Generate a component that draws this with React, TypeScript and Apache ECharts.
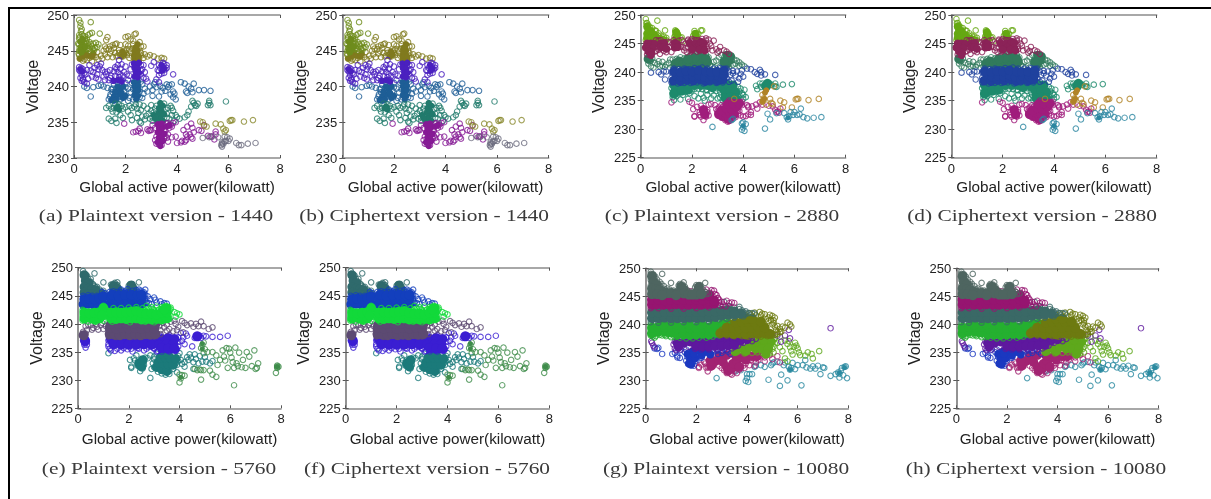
import React, { useEffect, useRef } from "react";
import * as echarts from "echarts";

// ---- tick values and texts
const xTicks = [0, 8, 2];
const xLabel = "Global active power(kilowatt)";
const yLabel = "Voltage";
const captions = [
  "(a) Plaintext version - 1440", "(b) Ciphertext version - 1440",
  "(c) Plaintext version - 2880", "(d) Ciphertext version - 2880",
  "(e) Plaintext version - 5760", "(f) Ciphertext version - 5760",
  "(g) Plaintext version - 10080", "(h) Ciphertext version - 10080",
];

// ---- window 1440: flat x,y lists
const a1Open = [.2,249.3,.25,248.9,.65,249,.25,248.4,.3,248,.27,247.7,.2,247.2,.3,247.3,.42,247,.55,247.2,.62,247.4,.7,247.5,1,247.4,.2,246.7,.35,246.6,.5,246.6,.6,246.2,.75,246,.85,246.1,.95,245.9,.2,245.9,.4,246.1,.55,245.7,.7,245.6,.82,245.4,.3,245.4,.48,245.2,.62,245,.78,245.1,.2,245,.9,245.5,.22,246.9,.28,246.2,.36,247.1,.42,246.7,.46,246.3,.52,246,.58,245.3,.66,245.9,.72,245.3,.28,244.9,.36,245.6,.22,245.4,.16,246,.18,244.6];
const a1Solid = [.25,246.3,.33,245.9,.27,245.5,.38,245.2,.25,245,.45,245.6,.33,246.6,.3,244.8];
const a2Open = [.6,244,.75,244.3,.9,244.8,1.05,244.3,1.15,245,1.2,245.6,1.25,246.5,1.3,246.9,1.35,245.2,1.4,244.6,1.5,244.1,1.55,245.4,1.6,245.9,1.7,244.3,1.8,245.8,1.85,244.6,1.95,245,2,245.9,2.05,244.4,2.1,245.7,2.15,244,2,246.9,2.1,247,2.2,246.6,2.3,245.9,2.35,247.3,2.4,247.4,2.2,244.9,2.6,245.6,2.7,245.6,2.75,244.5,2.6,244.3,2.85,244.2,2.95,244.4,3.1,244.2,3.25,243.9,3.4,244,3.5,243.9,1.1,243.9,1.3,244.1,.95,243.8,.35,243.6,.5,243.7,.7,243.5,1.65,246,1.45,245,1.75,245.1,2.55,246.2,.2,244.4,.3,244,.4,243.8,.55,244.6,.65,244.8,.85,244.1,1.2,244.5,1.25,245.3,1.4,245.6,1.5,245.8,1.6,244.7,1.65,244.2,1.75,244.7,1.8,244.3,1.9,244.2,2,244.7,2.05,245.2,2.15,245.2,2.25,244.3,2.28,245.3,2.3,246.4,2.55,245,2.6,244.7,2.7,244];
const a2Solid = [2.35,243.7,2.45,243.8,2.52,243.6,2.33,244.3,2.43,244.4,2.52,244.2,2.36,244.9,2.47,245,2.42,245.5,2.47,245.9,2.38,245.4,1.85,244.2,1.95,244.5,1.88,244.9,.35,244.2,.45,244.5,.22,243.9,.57,244.3,.7,244.2,.75,244.6,.3,244.7];
const a3Open = [.2,242.7,.25,242.1,.3,241.6,.35,241.1,.4,240.6,.3,240.8,.5,240.4,.45,241.7,.5,242.3,.6,243,.65,242.2,.7,241.4,.85,241.2,.9,241.7,.95,242.4,1,242.8,1.05,243.2,.95,241,1.1,242.3,1.15,241.4,1.2,240.9,1.3,242.1,1.4,242.3,1.45,241.5,1.5,240.8,1.6,241.5,1.65,242.5,1.7,243,1.8,242.5,1.75,241.3,1.95,242,1.85,240.9,2,242.8,2.05,241.7,2.1,240.9,2.2,242.4,2.6,243,2.65,242.4,2.6,241.7,2.7,241.2,2.75,242,2.8,241.1,2.85,240.7,3,242.9,3.1,243.4,3.25,242.3,3.2,241,3.3,240.6,3.85,241.7,3.3,243,3.5,243.2,3.6,243,3.55,242.4,1.75,243.7,.2,242.3,.28,242.6,.35,242.4,.4,241.9,.25,241.2,.36,240.9,.55,241.1,.75,242,.8,242.6,.9,243,1.2,242,1.25,241.7,1.35,240.9,1.4,241.2,1.55,242.1,1.6,242.7,1.7,242,1.8,241.7,1.85,243.1,1.9,241.5,2.15,241.5,2.25,243.1,2.6,242.2,2.7,243,3.3,242.2,3.35,242.6,3.4,241.8,3.45,243.3,3.5,241.9,3.6,242.6,3.3,241.6];
const a3Solid = [2.33,243.2,2.45,243.1,2.52,243.3,2.35,242.6,2.48,242.5,2.4,242,2.52,241.9,2.35,241.4,2.47,241.3,.25,242.4,.32,242.1,1.72,240.9,1.85,240.7,1.55,240.8,3.4,243,3.5,242.5,3.42,242.2];
const a4Open = [.4,240,.5,239.8,.75,239.9,.95,240.1,.65,238.6,1.05,240.2,1.15,240,1.3,239.8,1.45,239.6,1.35,238.2,1.4,238.6,1.5,239.2,2,240.5,2.1,239.7,2.2,239.2,2.15,238.4,2.1,238,2.65,240.3,2.75,239.7,2.7,239,2.65,238.4,2.85,239.3,2.95,240,3.05,239.5,3.15,240.6,3.2,239.9,3.35,240.1,3.45,239.8,3.55,239.4,3.65,239.9,3.7,240.2,3.8,240.3,3.85,239.3,3.75,238.9,3.85,238.5,3.9,239,3.05,238.7,3.3,238.6,4.15,240.6,4.3,240.4,4.45,240,4.65,240.4,4.55,239.7,4.35,239.3,4.4,239.1,4.6,239.2,4.85,239.5,5.05,239.5,5.3,239.4,1.42,238.9,1.5,239.7,1.6,238.9,1.65,239.8,1.7,238.6,1.8,238.2,1.85,240.3,1.95,239.4,2,239.9,1.55,240.2,1.7,240.5,2.25,240.5,2.3,239.6,2.55,239.3,2.55,238.5,2.3,238.2,2.6,240.7,3.1,240.3,3.4,239.3,3.6,240.3,3.95,238.2];
const a4Solid = [1.45,238.1,1.55,238.6,1.65,238.2,1.75,238.9,1.6,239.3,1.8,239.6,1.9,238.4,1.7,240,1.9,240,1.55,238,1.85,239.1,2,238.7,2.33,240.6,2.48,240.7,2.35,240,2.5,240.1,2.38,239.4,2.5,239.5,2.35,238.8,2.48,238.7,2.42,238.2];
const a5Open = [1.25,237,1.35,237.3,1.45,236.9,1.5,236.5,1.35,235.5,1.45,235.2,1.6,235.5,1.65,234.9,1.8,236,1.9,235.6,2,237.1,2.1,236.5,2.2,236,2.25,235.3,2.35,237.2,2.45,236.9,2.55,237.5,2.6,236.7,2.45,235.6,2.55,235.1,2.6,234.9,2.75,235.4,2.7,237.3,2.85,236.9,2.9,236.2,2.95,235.5,3.05,235.2,3.1,236.4,3,237.4,3.75,237.3,3.85,236.6,3.8,236,3.7,235.5,3.9,235.2,3.8,237,3.95,236,4,235.7,4.1,235.5,4.3,235.7,4.4,236,4.45,236.5,4.55,237.2,4.65,237.7,4.6,238,4.7,237.4,4.75,237.3,4.8,237.6,5.25,238,5.25,237.7,5.2,237.4,5.3,237.4,5.9,237.9,1.55,237,1.6,237.6,1.75,237.5,1.85,237.3,1.9,236.9,1.65,236.4,2.15,237.3,2.25,237,2.4,237.5,2.5,236.3,2.65,235.8,2.8,235.9,3,236.6,3.05,235.7,3.15,236.9,3.2,237.3,3.55,236.8,3.6,236.2,3.6,235.6,3.65,237,3.5,237.6,3.2,235.3];
const a5Solid = [3.25,235.3,3.35,235.8,3.45,235.2,3.28,236.3,3.4,236.6,3.5,236.1,3.3,237,3.45,237.3,3.35,237.7,1.7,237.2,1.75,236.8,1.65,237,3.1,236,3.15,235.6];
const a6Open = [1.95,234.8,2.3,233.6,2.4,233.7,2.5,233.8,2.55,234.1,2.85,234,2.95,233.9,3,233.9,3.05,234.6,3.15,234.2,3.55,233.8,3.65,233.3,3.7,234.2,3.75,234.6,3.85,234.9,3.95,235,3.95,233,3.65,232.3,4,232.1,4.15,232.2,4.2,232.4,4.3,232.3,4.35,232.5,4.4,233,4.35,233.3,4.25,233.9,4.4,234.4,4.55,234.8,4.6,234.2,4.65,233.6,4.5,233.3,4.55,232.9,4.6,232.7,4.95,233.8,4.85,233.9,5.05,234.6,5.2,233.1,5.3,233,5.35,233,5.5,233.3,5.5,233.7,5.45,232.6,3.2,232,3.3,231.9,3.4,231.8,3.5,232.7,3.55,233.1,3.6,234.8,3.2,233,3.15,232.5,3.5,233.9,3.8,234.4,3.65,234.9,2.6,233.5,2.9,233.8,3.6,232.8,3.8,232.9];
const a6Solid = [3.25,232.2,3.35,232.1,3.45,232.4,3.3,232.9,3.42,233.1,3.25,233.6,3.38,233.7,3.5,233.4,3.3,234.2,3.45,234.3,3.6,234.4,3.25,234.7,3.4,234.8,3.35,231.7,3.7,234.6];
const a7Open = [4.9,235.1,5,235,5.05,234.5,5.15,234.4,5.5,234.8,5.7,234.7,5.8,234.1,5.9,233.9,6.05,235.2,6.1,235.3,6.15,235.3,6.6,235.1,6.95,235.3,5.85,233.7];
const a8Open = [5,232.8,5.25,232.9,5.35,233,5.6,232.9,5.75,232.2,5.75,232,5.72,231.8,5.75,231.6,5.8,232,5.85,232.3,5.9,232.4,5.95,232.9,5.85,233,6.05,232.7,6,232.4,6.3,232.1,6.4,231.8,6.5,231.8,6.75,232,7.05,232.1];

// ---- window 2880
const c1Open = [.2,249.3,.65,249,.25,248.6,.3,248.2,.45,247.7,.55,247.3,.6,247.2,.7,246.8,.95,247.3,.8,246.4,.9,246.2,1,246,1.35,247.3,1.4,247.1,1.35,246.5,1.45,245.8,1.55,246,1.6,246.1,1.65,245.4,2.1,247.2,2.15,246.8,2.25,246.7,2.35,247.3,2.4,247.3,2.15,246,.22,248.6,.28,247.6,.35,247.9,.45,246.9,.58,246.5,.68,246.4,.85,245.7,.95,245.4,1,245.6,.2,245.6,1.32,246.2,1.3,245.4,1.45,246.7,2.05,246.4,2.2,246.4];
const c1Solid = [.25,248,.3,247.4,.4,247.2,.25,246.7,.38,246.5,.5,246.6,.25,246,.38,245.9,.5,245.9,.62,246,.78,245.8,.9,245.6,.3,245.3,.5,245.3,.7,245.4,1.38,247,1.42,246.5,1.4,245.9,2.13,246.7,2.15,246.1];
const c2Open = [.6,243.7,.75,243.2,1,243.5,1.2,243.5,1.15,245.2,1.25,244.9,1.6,245.6,1.65,244.4,1.7,243.8,1.75,245,1.8,243.5,1.85,245.7,1.95,243.6,2,245.8,2.15,245.6,2.65,245.7,2.7,245,2.75,244.6,2.85,245.5,2.8,243.8,2.95,244,3,243.4,3.05,243.7,3.1,244.4,3.25,243.8,3.35,243.6,3.45,243.2,2.55,245.9,.6,245.6,.7,245.5,.78,245.6,.62,244.5,.7,243.9,1.05,245.3,1.1,244.4,1.28,245.6,1.5,245.5,1.55,244.4,1.85,245.5,1.95,245.5,2.1,245.6,2.25,245.6,2.4,245.8,2.55,245.5,2.6,244.5,2.6,244,1.75,244.2,2.2,243.6,.25,243.1,.55,243.6,.9,243.7];
const c2Solid = [.25,245,.4,245,.55,244.9,.2,244.3,.33,244.3,.47,244.2,.3,243.6,.42,243.4,.8,245,.92,245.1,.78,244.3,.9,244.4,1,244.1,1.33,245.1,1.42,244.9,1.33,244.3,1.45,244.4,1.9,245.1,2,244.6,2.15,245,2.2,244.3,2.3,244.8,2.35,245.3,2.45,245.1,2.45,244.3,2.3,243.9,2,243.9,2.5,243.8,.4,243];
const c3Open = [.4,242,.3,241.5,.4,241,.5,240.8,.55,241.6,.7,241.9,.85,241.8,1,241.3,1.15,242.2,.95,240.9,.75,241,1.25,241,2.85,241.8,2.8,241,2.9,240.8,2.95,242,3.05,242.6,3.15,243,3.2,241.3,3.1,241,3.65,242.2,3.7,241.5,3.75,242,3.85,241.7,3.95,241.3,3.85,241.1,4.05,241,1.25,242.2,1.3,241,1.4,242.3,1.55,242.6,1.7,242.4,1.9,242.8,2,243,2.15,243.1,2.25,243.2,2.4,243.1,2.55,243,2.65,242.6,2.7,241.3,3.3,243.1,3.35,242.4,3.55,242,3.6,241.3,3.25,241,3.45,241,.35,241.9,.45,242.4,.65,241.4,.85,241.1,1.1,241.6];
const c3Solid = [.3,242.3,1.35,241.5,1.5,241.9,1.65,241.3,1.8,241.9,1.95,241.3,2.1,241.8,2.2,241.2,2.35,241.8,2.5,241.3,2.6,241.8,2.3,242.6,2.45,242.5,2.1,242.5,1.85,242.3,2.55,242.3,3.35,241.4,3.45,242.1,3.5,242.7,3.38,242.9,3.25,241.8];
const c4Open = [.4,239.9,.7,240,.9,240.1,.8,239.6,1,240.1,.95,238.7,3.95,240.3,3.6,240.2,3.9,239.7,4,239.2,3.85,238.9,3.7,239.4,3.55,238.5,3.35,239,3.45,240.1,3.8,238.3,4.15,240.6,4.3,240.5,4.45,240,4.65,240.4,4.55,239.7,4.7,240,4.85,239.6,4.7,239.4,5.25,239.5,1.2,238.2,1.2,239,1.2,240,1.3,240.6,1.5,240.5,1.7,240.6,1.9,240.5,2.1,240.7,2.4,240.8,2.6,240.6,2.85,240.6,3.1,240.7,3.35,240.6,1.45,238,1.7,238.1,1.95,238.1,2.2,238.2,2.45,238,2.7,238.2,2.95,238.1,3.2,238.2,3.45,238.3,3.5,239.5,3.6,239.8,3.75,240.1];
const c4Solid = [1.28,238.5,1.4,239.3,1.3,240.1,1.55,238.4,1.6,239.1,1.55,240,1.8,238.6,1.85,239.3,1.78,240.2,2.05,238.5,2.05,239.2,2.02,240.1,2.3,238.7,2.28,239.4,2.27,240.3,2.52,238.4,2.5,239.1,2.55,240.1,2.72,238.6,2.78,239.3,2.75,240,3,238.5,3.05,239.2,2.98,240.1,3.2,238.7,3.25,239.5,3.25,240.3];
const c5Open = [1.25,235.6,1.3,235.1,1.4,235.8,1.55,235.2,1.65,236,1.85,235.3,1.9,236.3,2,236.8,2.1,235.8,2.25,235.4,2.35,236.2,2.45,235.5,2.5,235,2.55,236.9,2.6,236,2.75,235.4,2.85,235.9,2.95,236.7,3,235.4,3.9,237.1,3.95,236.3,4,236,4.1,235.6,3.85,235.2,4,235.3,4.5,237.6,4.55,237,4.65,238,4.7,237.4,4.75,238,4.8,237.6,5,237.9,5.1,237.8,5.25,238,5.25,237.5,5.3,237.4,5.55,237.8,5.9,237.9,1.2,237.2,1.25,236.4,1.4,236.2,1.5,236.5,1.65,237,1.75,236.5,1.95,237,2.1,237,2.25,237.1,2.4,237,2.6,236.8,2.75,236.6,2.95,237.2,3.1,236.5,3.15,236,3.1,235.5,3.2,235,3.4,235,3.6,235,3.8,235.2,3.85,236,3.85,236.6,3.8,237.4,4.05,236.9];
const c5Solid = [1.3,237.7,1.35,236.8,1.3,236.2,1.55,237.5,1.6,236.7,1.8,237.6,1.85,236.9,2.1,237.7,2.35,237.7,2.6,237.7,2.8,237.3,3,237.7,3.2,237.2,3.4,237.8,3.6,237.7,3.3,236.4,3.5,236.6,3.7,236.5,3.3,235.5,3.5,235.6,3.7,235.5,4.9,237.5,4.95,238];
const c6Open = [1.2,234.7,1.9,234.8,2,234.6,2.05,233.5,2.1,232.3,2.1,232.2,2.2,233.9,2.3,233,2.35,234.1,2.35,232.2,2.45,231.6,2.5,232.9,2.6,233.4,2.65,232.4,2.65,234.3,2.75,234.4,2.9,234.2,2.95,233.5,3,232.8,3.85,233.2,3.9,232.4,4,232.2,4.1,232.3,4.2,232.6,4.3,232.5,4.3,233,4.35,234,4.15,234.2,4.2,233.8,4.5,234.3,4.55,233.6,4.65,234.7,4.75,234.3,5,234.1,5.15,234,5.25,233.4,5.35,233.1,5.45,233.6,5.4,232.9,5.3,233,4.2,234,2.3,232.5,2.4,233.3,2.55,232.2,2.6,233,3,233.1,3.05,233.8,3.15,232,3.2,233.9,3.3,231.6,3.4,231.3,3.55,231.9,3.7,232.1,3.8,232.7,3.8,233.4,3.95,234.2,3.95,234.8,3.45,235,3.3,234.3,3.15,234.2];
const c6Solid = [3.05,232.6,3.2,232.3,3.35,232,3.45,231.7,3.3,232.9,3.5,232.7,3.65,232.6,3.15,233.3,3.35,233.7,3.55,233.5,3.75,233.9,3.4,234.4,3.6,234.5,3.85,234.5,2.5,232.6,2.45,233.4];
const c7Open = [4.75,234.8,4.8,235.4,4.75,236,4.9,234.3,5.05,235.3,5.1,234.6,5.15,234.4,5.2,237.5,5.45,235,5.6,234.7,5.55,233.8,5.9,233.8,6.05,235.2,6.1,235.3,6.15,235.3,6.55,235.1,6.95,235.3,3.65,235.3];
const c7Solid = [4.85,236.4,4.9,236.8,4.82,235.3,4.75,234.9];
const c8Open = [2.8,230.4,3.55,231.6,3.6,231.8,3.95,231,4,230.3,4.05,229.7,3.95,229.9,4.1,230.9,4,231.2,4.85,230.1,4.95,232.7,5.05,231.7,5.3,232.8,5.6,232.8,5.7,232.1,5.75,231.7,5.8,232.3,5.85,233,5.95,232.5,6,233,6.1,232.5,6.2,232.6,6.25,233.6,6.35,232.1,6.5,231.9,6.75,232,7.05,232.1];
const c8Solid = [5.75,232,4,230.6];

// ---- window 5760
const e1Open = [.2,249.4,.65,249,.3,248.4,.5,248,.6,247,.7,246.5,.95,245.5,1,247.4,1.35,245.2,1.55,247.4,1.45,247.3,1.7,245.5,2.05,247,2.2,246.6,2.1,245.6,2.25,245.5,2.4,247.4,.9,245.8,.2,248.9,.35,248.6,.4,248,.5,247.5,.58,247.1,.65,246.7,.75,246.6,.85,246.1,1,245.9,1.05,245.4,1.3,247,1.35,246.4,1.5,247,1.55,246.9,1.6,246.2,1.7,245.9,2,246.8,2.05,246.4,2.25,246.2,2,246.1,1.35,245.8];
const e1Solid = [.25,248.7,.3,247.7,.42,247.3,.25,246.6,.4,246.3,.55,246.2,.7,246,.25,245.6,.4,245.3,.55,245.3,.75,245.2,.9,245.3,1.4,246.8,1.55,246.3,1.45,245.7,1.6,245.5,2.1,246.9,2.15,246.2,2.1,245.6];
const e2Open = [1.65,245.7,1.7,246.1,1.85,245.8,1.95,246.2,2.05,245.3,2.3,246,2.4,246.1,2.5,245.9,2.55,245.3,2.6,245.6,2.65,245.2,2.65,246.1,2.7,243.8,2.8,243.7,2.85,244.4,2.9,243.5,3,244.7,3.05,244.3,3.1,243.8,3.3,243.5,3.4,243.7,3.5,243.6,3.25,244,1.15,244.9,1.05,243.5,1.1,244.1,.2,245,.2,243,1.05,244.4,1.05,245.5,.95,245.7,1.25,245.7,1.4,245.8,1.55,245.7,1.75,245.7,1.95,245.7,2.15,245.9,2.4,245.7,2.6,244.8,2.65,244.5,2.65,243.7,2.75,244.9,1.2,244.9,1.2,243.6,.55,245,.75,245,.4,245.1];
const e2Solid = [.22,243.5,.4,243.6,.6,243.5,.8,243.4,1,243.5,.25,244.4,.45,244.5,.65,244.4,.85,244.6,1,244.9,1.3,243.5,1.5,243.6,1.7,243.5,1.9,243.6,2.1,243.5,2.3,243.6,2.5,243.5,1.3,244.5,1.5,244.6,1.7,244.5,1.9,244.6,2.1,244.6,2.3,244.6,2.5,244.5,1.35,245.2,1.6,245,1.85,245.2,2.1,245.2,2.35,245.1,2.5,245.2];
const e3Open = [2.7,243.2,2.8,242.7,2.9,243,3,242.5,3.1,243.1,3.15,242.4,3,241.8,3.65,242.9,3.8,242.1,3.9,241.9,4,241.7,3.85,241.3,1,243.2,1.1,242.5,1.05,241.3,.18,241.5,.18,242.5,.18,240.6,.4,240.4,.7,240.4,1,240.6,1.05,242,1.22,241.3,1.22,242.3,1.4,242.8,1.7,242.8,2,242.9,2.3,243,2.55,242.8,2.7,242.6,2.95,242.7,3.2,242.6,3.6,241.7,3.65,242.6,3.6,240.9,3.3,243,3.45,243.2,2.05,240.3,1.35,240.4,2.65,240.4,3,240.3];
const e3Solid = [.25,241,.45,241.1,.65,240.8,.85,241,.25,242,.45,241.9,.65,242,.85,242.1,1,242.8,.95,241.5,1.3,241,1.5,240.9,1.7,241,1.9,240.9,2.1,241,2.3,241,2.5,240.8,2.7,240.9,2.9,240.8,3.1,240.9,3.3,240.8,3.5,241,1.3,242,1.5,242.1,1.7,242,1.9,242.1,2.1,242.2,2.3,242.3,2.5,242,2.7,241.8,2.9,241.9,3.1,241.7,3.3,242,3.5,242.1,3.5,242.8,3.4,242.6];
const e4Open = [.3,239.6,.5,239.8,.6,239.3,.75,239.5,.9,239.8,1,239.1,1.1,239.6,.2,238,.3,238.3,.25,237.7,3.2,240.4,3.35,240.2,3.5,239.9,3.65,240.4,3.8,240.6,3.85,240,3.95,239.5,4.1,240.5,4.2,240.2,4.3,239.8,4.45,240.1,4.55,239.5,4.65,240,4.75,239.6,4.85,240.4,4.95,239.6,5.15,239.1,5.3,239.4,3.5,238.8,3.75,238.7,3.9,238.9,4.15,238.5,.4,239.9,.7,240,.95,240.2,.2,238.6,.35,238.9,.55,239,.8,239,1.2,237.8,1.2,238.8,1.2,239.7,1.35,240.4,1.7,240.3,2.05,240.4,2.4,240.4,2.7,240.3,3,240.3,3.2,239.6,3.25,238.9,3.25,238.2,3.4,239.4,3.6,239.1,1.5,237.7,2,237.8,2.5,237.7,3,237.8];
const e4Solid = [1.25,238.2,1.45,238.1,1.65,238,1.85,238.2,2.05,238,2.25,238.1,2.45,238,2.65,238.2,2.85,238.1,3.05,238.2,1.25,239.3,1.5,239.2,1.75,239.3,2,239.2,2.25,239.3,2.5,239.2,2.75,239.4,3,239.2,1.3,240,1.6,240,1.9,240.1,2.2,240.1,2.5,240,2.8,240,3.05,240,.22,238];
const e5Open = [.25,236.6,.3,235.8,.35,236.3,1.2,236.4,1.25,235.6,1.45,235.2,1.7,235.3,1.95,235.5,2.15,235.1,2.35,235.7,2.6,235.3,2.8,235.9,3,235.6,3.1,235.1,4.05,238.4,4.1,237,4.2,236.4,4.25,238.3,4.5,236,4.6,237.5,4.7,237.9,4.8,237.9,4.85,237.5,4.95,237.9,5.05,237.8,5.3,237.7,5.6,237.7,5.9,237.9,3.9,235.5,.25,236.3,.2,237.1,.3,237.4,.35,236.8,1.2,237.1,1.2,236,1.3,235.3,1.55,235.6,1.8,235.7,2.1,235.6,2.4,235.6,2.7,235.6,3,235.7,3.15,235.2,3.3,235.1,3.6,235.1,3.85,235.2,3.95,236,3.95,236.8,3.95,237.6,3.6,238,3.25,237.9,4.15,237.6,4.3,237.9,4.65,237.6];
const e5Solid = [1.3,237.3,1.55,237.2,1.8,237.3,2.05,237.1,2.3,237.3,2.55,237.2,2.8,237.2,3.05,237.1,3.3,237.3,3.55,237.5,3.8,237.3,1.4,236.4,1.7,236.3,2,236.3,2.3,236.3,2.6,236.4,2.9,236.3,3.2,236.3,3.5,236.4,3.75,236.4,3.3,235.7,3.55,235.6,3.8,235.6,.28,237,4.7,237.8];
const e6Open = [1.2,234.8,2.05,233.6,2.1,232.4,2.1,232.2,2.25,233.5,2.35,232.6,2.45,231.6,2.55,232.1,2.6,233.3,2.75,233.9,2.85,234.4,2.3,234.4,2.85,230.4,2.95,233,3,232.3,3.85,233,4,234.8,4.05,233.6,4.1,232.9,4.2,232.4,4.3,234.1,4.45,234,4.55,233.2,4.6,234.6,4.8,234.3,4.9,233.3,5,234.1,5.05,233.3,5.2,233,5.3,233.4,3.9,231.4,4.55,232,3.6,231.1,2.4,232.5,2.45,233.3,2.55,233,2.6,232.7,2.65,234,2.2,233.9,2.9,232,3,233.7,3,234.2,3.15,231.5,3.3,231.2,3.45,231,3.6,231.6,3.75,232,3.9,232.7,3.95,233.4,3.95,234.3,3.75,234.7,3.4,235.1,3.1,234.7,4.2,233.2,4.35,233.6,4.4,234.6,4.65,233.8,4.75,233];
const e6Solid = [3.1,232.3,3.3,231.9,3.5,231.6,3.15,233.1,3.35,233,3.55,232.8,3.75,232.7,3.25,234,3.45,234,3.65,233.9,3.85,233.8,3.35,234.6,3.55,234.6,2.4,233,2.5,232.4,2.55,233.6];
const e7Open = [4,231,4.05,230.3,4,229.6,4.85,230.1,4.2,230.8,4.1,230.9,4.6,232,4.7,231.8,4.8,231.9,4.85,231.8,4.95,231.8,5.2,231.7,5.3,231,5.45,230.6,5.5,232.7,5.6,233.6,5.7,235.3,5.75,234.2,5.8,233.5,5.85,235.7,5.9,232.2,5.95,235.6,6,234.9,6.05,234,6.1,233.2,6.15,229.1,6.15,232.2,6.2,235.8,6.25,233,6.3,232.5,6.35,234.9,6.45,232.3,6.5,233.6,6.6,232.2,6.65,235,6.75,234.2,6.85,232.5,6.95,235.3,7,232,7.05,232.2,7.1,233,5.3,235,5.45,234.4,5.1,235,5,235.5,7.8,231.3,7.85,232.2,7.85,232.4,7.85,232.6,7.9,232.4,4.9,236.3,4.85,235.7,4.95,234.8,4.95,236.7];
const e7Solid = [4.9,236.5,7.85,232.4,4.9,235.6,4.05,230.5];

// ---- window 10080
const g1Open = [.2,249.4,.65,249,1,247.4,1.5,247.5,1.35,246,.55,247,.75,246.3,2.1,247,2.35,247.4,2.2,246,1.9,245.4,2.4,245.4,.9,245.3,.2,249,.3,248.9,.38,248.5,.45,248,.55,247.6,.62,247.2,.72,246.8,.85,246.4,.95,246.2,1.1,246,1.15,245.7,1.3,246.9,1.35,247.2,1.45,247.1,1.55,246.7,1.65,246,1.75,245.8,1.95,246.6,2,247,2.15,247,2.25,246.3,2.35,245.8,2.5,245.5,.2,246.9,.2,247.9,.2,245.9,.55,246.8];
const g1Solid = [.25,248.6,.3,247.6,.42,247.1,.25,246.4,.42,246.2,.55,246.1,.7,245.8,.85,245.6,1,245.6,.25,245.4,.45,245.4,.65,245.2,1.4,246.7,1.5,246.2,1.25,245.6,1.5,245.5,1.7,245.3,2.1,246.6,2.05,245.9,2,245.3,1.85,245.3,2.2,245.4,1.2,245.2];
const g2Open = [2.05,246.2,1.65,246,1.8,245.9,2.4,246.2,2.6,246.1,2.7,246,2.75,245.4,2.7,244.8,2.9,244.4,3,244,3.2,244.2,3.3,243.8,3.4,243.9,3.5,243.8,3.05,243.5,3.15,243.2,2.75,243.5,.2,245,.2,244,.2,242.9,.35,245,.6,245,.85,245,1.1,245,1.4,245,1.55,245.6,1.9,245.6,2.15,245.7,2.35,245.8,2.55,245.6,2.8,245.2,2.85,244.7,2.9,243.9,2.95,243.3,.5,242.9,1,242.8,1.5,242.8,2,242.9,2.5,243];
const g2Solid = [.25,243.5,.45,243.6,.7,243.5,.95,243.5,1.2,243.6,1.45,243.5,1.7,243.5,1.95,243.6,2.2,243.5,2.45,243.6,2.7,243.7,.25,244.4,.5,244.4,.75,244.3,1,244.4,1.25,244.4,1.5,244.4,1.75,244.4,2,244.4,2.25,244.4,2.5,244.5,2.7,244.2,1.75,245.1,2.25,245.1,2.5,245.2,2,245];
const g3Open = [3.1,244,3.3,243.2,3.7,243.1,3.8,242.5,3.95,242.3,4.05,242,4.2,242,4.3,241.9,3.9,241.7,.2,242.7,.5,242.8,.9,242.7,1.4,242.8,1.9,242.9,2.4,243,2.7,243.1,3,243.1,3.3,243.2,3.5,243,3.7,242.7,3.85,242.2,3.95,241.9,3.85,241.4,3.5,241.2,3.2,241,2.9,240.9,2.5,240.5,2,240.4,1.5,240.4,1,240.3,.5,240.3,.2,240.4];
const g3Solid = [.25,241.1,.5,241.1,.75,241.2,1,241.1,1.25,241.1,1.5,241.1,1.75,241.2,2,241.1,2.25,241.2,2.5,241.2,2.75,241.3,3,241.6,3.25,241.7,.25,242.1,.5,242.1,.75,242.2,1,242.2,1.25,242.2,1.5,242.2,1.75,242.2,2,242.2,2.25,242.3,2.5,242.3,2.75,242.3,3,242.4,3.25,242.5,3.5,242.3,3.75,241.9,3.5,241.8];
const g4Open = [.2,238,.35,237.6,.45,238.5,.65,238,.8,237.9,1,237.7,.9,238.3,.2,240,.2,239,.2,238.4,.28,237.8,.4,237.9,.55,238.1,.75,238.1,.95,238,1.15,237.7,1.35,237.6,1.6,237.5,1.85,237.5,2.1,237.6,2.4,237.6,2.65,237.8,2.9,238,3.1,238.7,3.3,239.3,3.5,239.9,3.2,240.3,2.85,240.4,2.5,240.3];
const g4Solid = [.25,238.4,.5,238.7,.75,238.7,1,238.6,1.25,238.2,1.5,238.2,1.75,238.1,2,238.2,2.25,238.3,2.5,238.2,2.75,238.5,.25,239.4,.5,239.5,.75,239.5,1,239.6,1.25,239.3,1.5,239.4,1.75,239.3,2,239.4,2.25,239.4,2.5,239.4,2.75,239.6,3,239.7,3.25,240.1,.7,240,1.2,240,1.7,240,2.2,240,2.7,240,3.05,240.1];
const g5Open = [4.1,242,4.3,242.1,4.5,242.2,4.7,241.8,4.9,241.7,5,241.5,5.1,241.2,4.85,240.6,5.05,240.2,5.2,239.7,5.3,239.2,5.2,238.3,5.35,238.7,5.6,240.3,5.7,240,5.75,239.6,3,239,3.3,240,3.45,240.7,3.7,241.2,3.95,241.6,4.15,241.7,4.35,241.6,4.55,241.6,4.75,240.9,4.95,240.7,5,240,5.1,239.6,5.15,239,5.2,238.6,5,238,4.8,237.9,4.55,237.8,4.3,238,4.05,237.8,3.8,237.9,3.5,237.9,3.2,238,4.6,241.9,4.85,241.2,5.05,240.7,5.1,238.1,5.3,238.6,5.4,239.6,5.5,239.4];
const g5Solid = [2.95,238.4,3.2,238.5,3.45,238.3,3.7,238.4,3.95,238.2,4.2,238.4,4.45,238.3,4.7,238.4,4.9,238.3,3.2,239.4,3.45,239.4,3.7,239.3,3.95,239.4,4.2,239.4,4.45,239.5,4.7,239.4,3.55,240.3,3.8,240.4,4.05,240.4,4.3,240.4,4.55,240.5,3.95,241,4.2,241];
const g6Open = [1.1,236.4,1.15,235.7,1.2,235.4,5.35,236.9,5.65,239,7.3,239.3,5.2,238,5.5,238,5.7,237.5,.25,236.7,.3,236.2,.35,235.9,1.15,236.9,1.25,237.3,1.5,237.4,1.75,237.5,2,237.5,2.25,237.5,2.5,237.5,2.75,237.6,3,237.7,3.3,237.8,3.6,237.7,3.9,237.8,4.2,237.6,4.35,237.4,4.2,237,3.85,236.7,3.65,236.2,3.4,235.7,3.1,235.5,2.8,235.5,2.5,235.5,2.2,235.5,1.95,235.6,1.7,236,1.4,235.5,.22,237];
const g6Solid = [1.25,236.7,1.5,236.7,1.75,236.9,2,236.9,2.25,236.9,2.5,236.9,2.75,237,3,237.1,3.25,237.2,3.5,237,3.75,237.1,4,237.3,2,236.1,2.25,236,2.5,236,2.75,236.1,3,236.1,3.25,236.2,3.5,236.3,1.3,236];
const g7Open = [5.1,237.5,5.2,236.7,5.3,235.9,5.4,235.2,5.5,237.1,5.6,236.5,5.65,237,5.7,235.9,5.75,235.2,5.85,236,5.9,236.7,5.95,236.2,6,235.7,6.05,235,6.1,234.5,5.8,234.6,6.3,234.4,6.4,235,6.55,234.7,6.85,235.2,6.6,233.9,5.5,233.9,5.6,233.4,5.3,237.8,3.5,234.9,3.7,235.2,3.85,236.3,4.05,236.5,4.25,237.4,4.4,237.5,4.6,237.8,4.85,237.6,5.05,237.3,5.1,236.6,5.05,236,5,235.6,5.05,235,4.9,234.8,4.6,234.9,4.4,235,4.2,234.9,3.9,234.8,4.3,236.1,4.55,236.3,4.8,236.2,4.95,237.7,4.3,237.7];
const g7Solid = [3.55,235.2,3.8,235.7,3.95,235.2,4.1,235.9,4.35,235.6,4.2,236.7,4.45,236.8,4.7,236.9,4.95,236.9,4.6,235.6,4.85,235.7,4.75,234.7,4.65,237.3];
const g8Open = [.35,235.7,.45,235.6,.5,235.8,.65,234.7,1.05,234.7,1.15,234.9,1.25,234.1,1.35,234,1.35,235.4,1.6,235.5,2.75,235.2,2.85,234.7,3,235.3,3.25,235.1,3.35,234.7,1.6,233.5,1.65,234.2,1.7,235,1.75,232.7,1.85,233.2,2,233.5,2.05,234.9,2.1,235.4,2.3,234.8,2.45,235.4,2.65,235.4,2.85,235.4,3,234.9,3.2,235.4,2.2,234,1.55,235,1.9,232.6,1.25,234.4];
const g8Solid = [1.7,233,1.75,233.8,1.65,234.7,1.85,235.2,1.95,233.9,1.9,234.7,2.15,235,2.4,235.1,2.55,234.6,1.8,232.8,2.2,234.4];
const g9Open = [2.1,232.2,2.1,232.4,2.35,233,2.45,231.6,2.4,232.2,2.5,232.6,4.55,234.3,4.7,233.4,4.9,234.5,4.3,232.6,4.35,233.2,4.1,232.7,4.05,233.5,3.9,232.2,3.6,231.3,3.4,231,5.3,233.2,5.2,234.3,1.95,233,2.2,232.8,2.3,233.3,2.45,232.4,2.55,232.2,2.65,233.3,2.85,233.7,2.9,232.6,3,232.2,3.1,231.8,3.2,231.3,3.35,231.2,3.5,231.6,3.7,231.9,3.85,232.6,3.95,233,4.15,233.6,4.35,233.9,4.55,234.6,4.45,233.7,4.7,234.1,2.75,234.6,3.35,234.9,3.7,235,3.95,234.8,5,233.8];
const g9Solid = [2.6,232.6,2.75,233.4,2.9,234.4,3.05,233.3,3.2,232.4,3.25,231.7,3.4,232.1,3.45,233,3.6,233.4,3.7,232.4,3.8,234.1,3.55,234.4,3.2,234.5,3.95,233.7,4.2,234.3,4.4,234.3,2.55,233.5];
const g10Open = [2.8,230.4,3.5,231.8,3.55,231.6,3.7,232,3.75,231.8,4,231.1,4,230.4,4.05,229.7,3.95,229.9,4.1,231.1,4.2,231.1,4.3,232.4,4.35,232.6,4.55,232.7,4.7,232.4,4.85,230.1,4.95,232.7,5,233,5.05,233.2,5.2,233.3,5.3,229,5.35,231,5.45,232.7,5.5,233.2,5.6,230,5.65,232.4,5.7,231.9,5.8,233.1,5.9,232,6,232.7,6.15,229.1,6.2,232.7,6.3,233.6,6.35,232.3,6.5,232.1,6.6,232.5,6.7,232.1,6.8,232.6,6.9,231.1,7,232.3,7.05,232.2,7.3,230.8,7.5,231.1,7.6,231.4,7.65,230.5,7.65,231.2,7.7,231.7,7.75,232.2,7.8,230.9,7.85,232.4,7.9,232.5,7.95,230.4,5.75,232.2];
const g10Solid = [5.7,231.9,7.85,232.3,7.65,231.3];

// color, open points, solid points, solid size
type Cluster = [string, number[], number[], number];
const clusters1440: Cluster[] = [
  ["#807a1e", a2Open, a2Solid, 6.5], ["#6e8c1c", a1Open, a1Solid, 6.5],
  ["#1e5e96", a4Open, a4Solid, 6.5], ["#217a6c", a5Open, a5Solid, 6.5],
  ["#4a20bf", a3Open, a3Solid, 6.5], ["#861a95", a6Open, a6Solid, 6.5],
  ["#8a8a30", a7Open, [], 6], ["#6c6c7e", a8Open, [], 6],
];
const clusters2880: Cluster[] = [
  ["#317a5c", c3Open, c3Solid, 9.5], ["#1d8a6c", c5Open, c5Solid, 9.5],
  ["#65a812", c1Open, c1Solid, 8], ["#8b2358", c2Open, c2Solid, 8],
  ["#1f419e", c4Open, c4Solid, 9.5], ["#a01c7c", c6Open, c6Solid, 9.5],
  ["#b08326", c7Open, c7Solid, 6], ["#2a86a0", c8Open, c8Solid, 5],
];
const clusters5760: Cluster[] = [
  ["#2f6a6c", e1Open, e1Solid, 9.5], ["#1b7a7a", e6Open, e6Solid, 9.5],
  ["#3e8c4a", e7Open, e7Solid, 5], ["#3a1ed2", e5Open, e5Solid, 10],
  ["#5c4a72", e4Open, e4Solid, 10], ["#133fbd", e2Open, e2Solid, 10],
  ["#12d93a", e3Open, e3Solid, 10],
];
const clusters10080: Cluster[] = [
  ["#2a8aa0", g10Open, g10Solid, 5], ["#a22372", g9Open, g9Solid, 9.5],
  ["#1b38c0", g8Open, g8Solid, 8], ["#5ea81c", g7Open, g7Solid, 9.5],
  ["#5e189e", g6Open, g6Solid, 9.5], ["#25b030", g4Open, g4Solid, 10],
  ["#6d7a10", g5Open, g5Solid, 10], ["#3a6966", g3Open, g3Solid, 10],
  ["#961570", g2Open, g2Solid, 10], ["#4e6560", g1Open, g1Solid, 10],
];

// layout per panel: left, right, top, bottom, y min, clusters, caption centre x, caption y
const panels: [number, number, number, number, number, Cluster[], number, number][] = [
  [74, 280, 15, 158, 230, clusters1440, 156, 215],
  [342.3, 548.7, 15, 158, 230, clusters1440, 424, 215],
  [640.7, 845.7, 15, 157.7, 225, clusters2880, 722, 215],
  [951.3, 1156.7, 15, 157.7, 225, clusters2880, 1032, 215],
  [78, 281, 267.7, 408.3, 225, clusters5760, 159, 468],
  [345.7, 549.3, 267.7, 408.3, 225, clusters5760, 427, 468],
  [645.7, 848.3, 268.3, 408.3, 225, clusters10080, 726, 468],
  [956.3, 1158.7, 268.3, 408.3, 225, clusters10080, 1036, 468],
];

const pairs = (f: number[]) => {
  const out: number[][] = [];
  for (let i = 0; i + 1 < f.length; i += 2) out.push([f[i], f[i + 1]]);
  return out;
};

const AXIS = "#8c8c8c";
const TEXT = "#222222";
const SANS = "Liberation Sans";

function buildOption() {
  const grid: any[] = [], xAxis: any[] = [], yAxis: any[] = [], series: any[] = [], graphic: any[] = [];
  panels.forEach(([l, r, t, b, yMin, set, cx, cy], i) => {
    grid.push({ left: l, top: t, width: r - l, height: b - t, containLabel: false });
    const line = { show: true, lineStyle: { color: AXIS, width: 1.5 } };
    const tick = { show: true, inside: true, length: 3, lineStyle: { color: "#555", width: 1 } };
    xAxis.push({
      type: "value", gridIndex: i, min: xTicks[0], max: xTicks[1], interval: xTicks[2], position: "bottom",
      axisLine: line, axisTick: tick, splitLine: { show: false },
      axisLabel: { fontFamily: SANS, fontSize: 13, color: TEXT, margin: 4 },
      name: xLabel, nameLocation: "middle", nameGap: i < 4 ? 21 : 23,
      nameTextStyle: { fontFamily: SANS, fontSize: 15.3, color: TEXT },
    });
    yAxis.push({
      type: "value", gridIndex: i, min: yMin, max: 250, interval: 5, position: "left",
      axisLine: line, axisTick: tick, splitLine: { show: false },
      axisLabel: { fontFamily: SANS, fontSize: 13, color: TEXT, margin: 5, padding: [16, 0, 0, 0] },
      name: yLabel, nameLocation: "middle", nameGap: 34, nameRotate: 90,
      nameTextStyle: { fontFamily: SANS, fontSize: 16, color: TEXT },
    });
    set.forEach(([color, open, solid, size]) => {
      const common = { type: "scatter", xAxisIndex: i, yAxisIndex: i, silent: true, animation: false };
      series.push({
        ...common, symbol: "circle", symbolSize: 5.5, data: pairs(open),
        itemStyle: { color: "rgba(0,0,0,0)", borderColor: color, borderWidth: 1.1, opacity: 0.8 },
      });
      if (solid.length) series.push({
        ...common, symbol: "circle", symbolSize: size, data: pairs(solid),
        itemStyle: { color, opacity: 1 },
      });
    });
    graphic.push({
      type: "text", x: cx, y: cy, scaleX: 1.26, silent: true,
      style: { text: captions[i], fontFamily: "Liberation Serif", fontSize: 17, fill: "#3a3a3a", textAlign: "center", textVerticalAlign: "middle" },
    });
  });
  // box with ticks on top and right too
  panels.forEach(([, , , , yMin], i) => {
    const line = { show: true, lineStyle: { color: AXIS, width: 1.5 } };
    const tick = { show: true, inside: true, length: 3, lineStyle: { color: "#555", width: 1 } };
    xAxis.push({ type: "value", gridIndex: i, min: xTicks[0], max: xTicks[1], interval: xTicks[2], position: "top", axisLine: line, axisTick: tick, axisLabel: { show: false }, splitLine: { show: false } });
    yAxis.push({ type: "value", gridIndex: i, min: yMin, max: 250, interval: 5, position: "right", axisLine: line, axisTick: tick, axisLabel: { show: false }, splitLine: { show: false } });
  });
  graphic.push({ type: "polyline", silent: true, shape: { points: [[9, 499], [9, 8], [1211, 8]] }, style: { stroke: "#000", lineWidth: 2, fill: "none" } });
  return { animation: false, backgroundColor: "#fff", grid, xAxis, yAxis, series, graphic };
}

export default function App() {
  const ref = useRef<HTMLDivElement>(null);
  useEffect(() => {
    const chart = echarts.init(ref.current!, undefined, { renderer: "svg" });
    chart.setOption(buildOption() as any);
    return () => chart.dispose();
  }, []);
  return <div ref={ref} style={{ position: "absolute", left: 0, top: 0, width: 1211, height: 499, filter: "blur(0.35px)" }} />;
}
